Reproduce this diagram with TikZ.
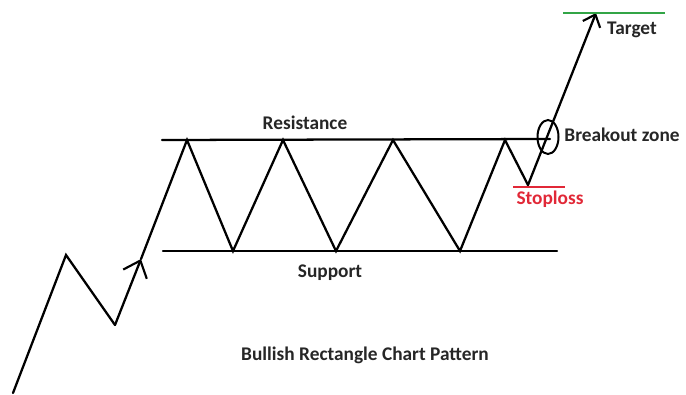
\documentclass[tikz,border=0pt]{standalone}
\usepackage{fontspec}
\setmainfont{Carlito}
\usetikzlibrary{arrows.meta,calc}
\definecolor{tgtgreen}{RGB}{50,165,70}
\definecolor{slred}{RGB}{225,40,55}

\begin{document}
\begin{tikzpicture}[x=0.75pt, y=-0.75pt, line width=1.7pt, line join=miter, line cap=round,
	lbl/.style={font=\fontsize{14.5}{17}\selectfont\bfseries, text=black!85, inner sep=0pt},
	barb/.style={-{Straight Barb[length=11pt, width=19pt, line width=1.6pt]}}]
	\useasboundingbox (0,0) rectangle (686,394);
	% price path
	\foreach \x\y\t in {13/393/P0,66/255/P1,115/325/P2,141/259/M1,187/140/A1,233/251/B1,283/140/A2,336/251/B2,393/140/A3,460/251/B3,505/140/A4,528/185/B4,596/13/T}
	\coordinate (\t) at (\x,\y);
	% resistance and support
	\draw (162,140) coordinate (R1) -- (550,139) coordinate (R2);
	\draw (163,251) coordinate (S1) -- (557,251) coordinate (S2);
	\draw (P0)--(P1)--(P2);
	\draw[barb] (P2)--(M1);
	\draw (M1)--(A1)--(B1)--(A2)--(B2)--(A3)--(B3)--(A4)--(B4);
	\draw[-{Straight Barb[length=8pt, width=14pt, line width=1.6pt]}] (B4)--(T);
	% levels
	\draw[tgtgreen, line width=1.6pt, line cap=butt] (563,13)--(665,13);
	\draw[slred, line width=1.6pt, line cap=butt] (513,187)--(565,187);
	\draw[line width=1.5pt] (548,137) ellipse [x radius=10.5, y radius=17];
	% labels
	\node[lbl] (res) at (305,123) {Resistance};
	\node[lbl] (sup) at (330,273) {Support};
	\node[lbl] (tgt) at (632,30) {Target};
	\node[lbl] (brk) at (622,135) {Breakout zone};
	\node[lbl, text=slred] (sl) at (550,199) {Stoploss};
	\node[lbl] (ttl) at (365,355) {Bullish Rectangle Chart Pattern};
\end{tikzpicture}
\end{document}
